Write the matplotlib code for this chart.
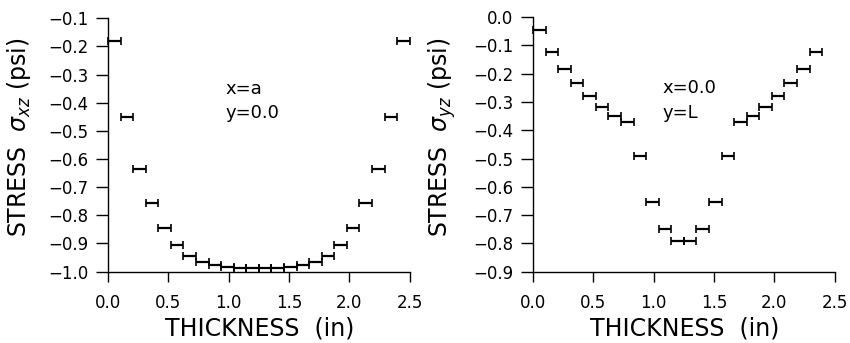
import numpy as np
import matplotlib
matplotlib.use("Agg")
import matplotlib.pyplot as plt
from matplotlib.ticker import FuncFormatter

# element width along the thickness (24 elements over 2.5 in)
elem_width = 2.5 / 24

# left panel: sigma_xz at x=a, y=0.0 (one value per element)
sxz = [-0.180, -0.452, -0.635, -0.757, -0.846, -0.905, -0.943, -0.967,
       -0.977, -0.984, -0.986, -0.986, -0.986, -0.986, -0.984, -0.977,
       -0.967, -0.943, -0.905, -0.846, -0.757, -0.635, -0.452, -0.180]

# right panel: sigma_yz at x=0.0, y=L (last element not shown)
syz = [-0.047, -0.123, -0.183, -0.234, -0.278, -0.318, -0.348, -0.371,
       -0.490, -0.652, -0.750, -0.792, -0.792, -0.750, -0.652, -0.490,
       -0.371, -0.348, -0.318, -0.278, -0.234, -0.183, -0.123]

xticks = [0.0, 0.5, 1.0, 1.5, 2.0, 2.5]
yticks_l = [-1.0, -0.9, -0.8, -0.7, -0.6, -0.5, -0.4, -0.3, -0.2, -0.1]
yticks_r = [-0.9, -0.8, -0.7, -0.6, -0.5, -0.4, -0.3, -0.2, -0.1, 0.0]

fmt = FuncFormatter(lambda v, pos: ("%.1f" % v).replace("-", "\u2212"))

fig = plt.figure(figsize=(8.5, 3.43), dpi=100)
ax1 = fig.add_axes([0.127, 0.208, 0.355, 0.739])
ax2 = fig.add_axes([0.627, 0.208, 0.355, 0.742])


def panel(ax, vals, yticks, ylabel, txt, txt_xy):
    centers = (np.arange(len(vals)) + 0.5) * elem_width
    ax.errorbar(centers, vals, xerr=elem_width / 2, fmt="none", ecolor="black",
                elinewidth=1.6, capsize=3, capthick=1.2, clip_on=False)
    ax.set_xlim(0, 2.5)
    ax.set_ylim(yticks[0], yticks[-1])
    ax.set_xticks(xticks)
    ax.set_yticks(yticks)
    ax.xaxis.set_major_formatter(fmt)
    ax.yaxis.set_major_formatter(fmt)
    for s in ["top", "right"]:
        ax.spines[s].set_visible(False)
    for s in ["left", "bottom"]:
        ax.spines[s].set_linewidth(1.0)
    ax.tick_params(axis="y", direction="out", length=9, width=1, pad=5, labelsize=12)
    ax.tick_params(axis="x", direction="out", length=7, width=1, pad=9, labelsize=12)
    ax.set_xlabel("THICKNESS  (in)", fontsize=17)
    ax.set_ylabel(ylabel, fontsize=17)
    ax.xaxis.set_label_coords(0.503, -0.175)
    ax.yaxis.set_label_coords(-0.25, 0.53)
    ax.text(txt_xy[0], txt_xy[1], txt, fontsize=13, va="center", ha="left",
            linespacing=1.45)


panel(ax1, sxz, yticks_l, r"STRESS  $\sigma_{xz}$ (psi)", "x=a\ny=0.0", (0.97, -0.395))
panel(ax2, syz, yticks_r, r"STRESS  $\sigma_{yz}$ (psi)", "x=0.0\ny=L", (1.076, -0.295))

fig.savefig("out.png", dpi=100)
